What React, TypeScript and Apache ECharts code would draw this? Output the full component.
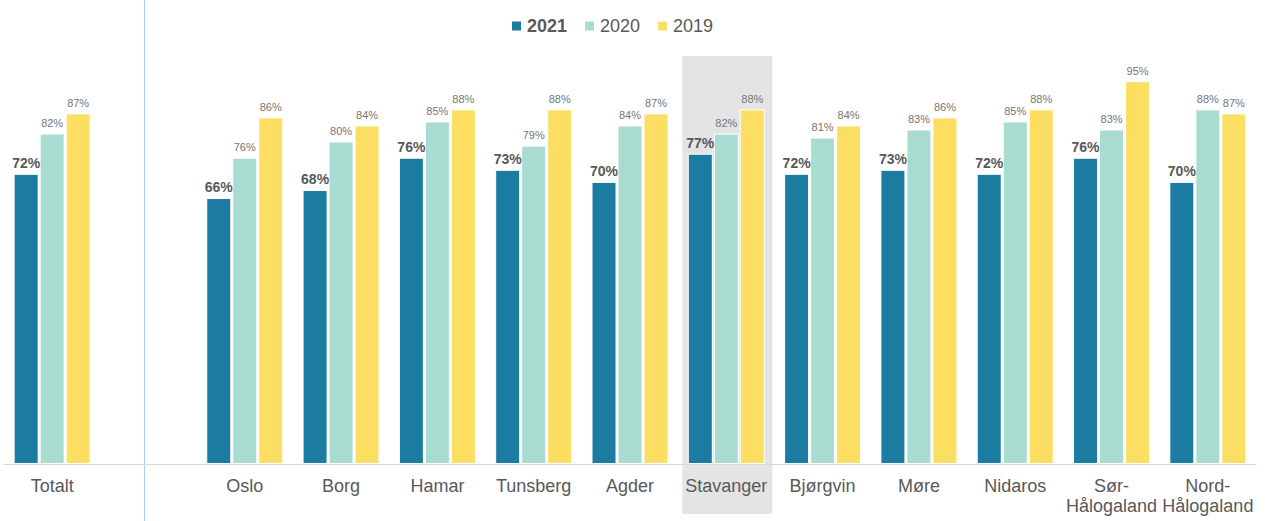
import React, { useEffect, useRef } from "react";
import * as echarts from "echarts";

const categories = [
  "Totalt",
  "",
  "Oslo",
  "Borg",
  "Hamar",
  "Tunsberg",
  "Agder",
  "Stavanger",
  "Bjørgvin",
  "Møre",
  "Nidaros",
  "Sør-\nHålogaland",
  "Nord-\nHålogaland",
];
const values2021 = [72, null, 66, 68, 76, 73, 70, 77, 72, 73, 72, 76, 70];
const values2020 = [82, null, 76, 80, 85, 79, 84, 82, 81, 83, 85, 83, 88];
const values2019 = [87, null, 86, 84, 88, 88, 87, 88, 84, 86, 88, 95, 87];
const highlighted = "Stavanger";

const FONT = "Liberation Sans, Arial, sans-serif";

export default function App() {
  const ref = useRef<HTMLDivElement>(null);
  useEffect(() => {
    if (!ref.current) return;
    const chart = echarts.init(ref.current, null, { renderer: "svg" });
    const barBase = {
      type: "bar",
      barWidth: 25,
      barGap: "4%",
    };
    const smallLabel = {
      show: true,
      position: "top",
      distance: 5,
      formatter: "{c}%",
      fontSize: 11,
      color: "#767676",
      fontFamily: FONT,
    };
    chart.setOption({
      animation: false,
      textStyle: { fontFamily: FONT },
      legend: {
        top: 12,
        left: 505,
        itemWidth: 11,
        itemHeight: 11,
        itemGap: 16,
        icon: "rect",
        textStyle: {
          fontSize: 18,
          color: "#595959",
          fontFamily: FONT,
          rich: { b: { fontWeight: "bold", fontSize: 18, color: "#595959", fontFamily: FONT } },
        },
        formatter: (name: string) => (name === "2021" ? `{b|${name}}` : name),
        data: ["2021", "2020", "2019"],
      },
      grid: { left: 4, right: 9, top: 61, bottom: 57, containLabel: false },
      xAxis: {
        type: "category",
        data: categories,
        axisTick: { show: false },
        axisLine: { lineStyle: { color: "#D9D9D9", width: 1 } },
        axisLabel: {
          interval: 0,
          fontSize: 18,
          lineHeight: 20,
          color: "#595959",
          margin: 12,
          fontFamily: FONT,
        },
      },
      yAxis: {
        type: "value",
        min: 0,
        max: 100,
        show: false,
        splitLine: { show: false },
      },
      series: [
        {
          ...barBase,
          name: "2021",
          data: values2021,
          itemStyle: { color: "#1B7BA1", borderColor: "#ffffff", borderWidth: 1 },
          label: {
            show: true,
            position: "top",
            distance: 4,
            formatter: "{c}%",
            fontSize: 14,
            fontWeight: "bold",
            color: "#595959",
            fontFamily: FONT,
          },
        },
        {
          ...barBase,
          name: "2020",
          data: values2020,
          itemStyle: { color: "#A8DCD1", borderColor: "#ffffff", borderWidth: 1 },
          label: smallLabel,
        },
        {
          ...barBase,
          name: "2019",
          data: values2019,
          itemStyle: { color: "#FCDF62", borderColor: "#ffffff", borderWidth: 1 },
          label: smallLabel,
        },
      ],
    });
    const cx = chart.convertToPixel({ xAxisIndex: 0 }, highlighted) as number;
    chart.setOption({
      graphic: [
        {
          type: "rect",
          z: -1,
          silent: true,
          shape: { x: cx - 44, y: 56, width: 90, height: 458 },
          style: { fill: "#E4E4E4" },
        },
        {
          type: "line",
          z: -1,
          silent: true,
          shape: { x1: 144.5, y1: 0, x2: 144.5, y2: 521 },
          style: { stroke: "#9DD6F0", lineWidth: 1 },
        },
      ],
    });
    return () => chart.dispose();
  }, []);
  return (
    <div
      ref={ref}
      style={{ position: "fixed", left: 0, top: 0, width: 1265, height: 521, background: "#fff" }}
    />
  );
}
